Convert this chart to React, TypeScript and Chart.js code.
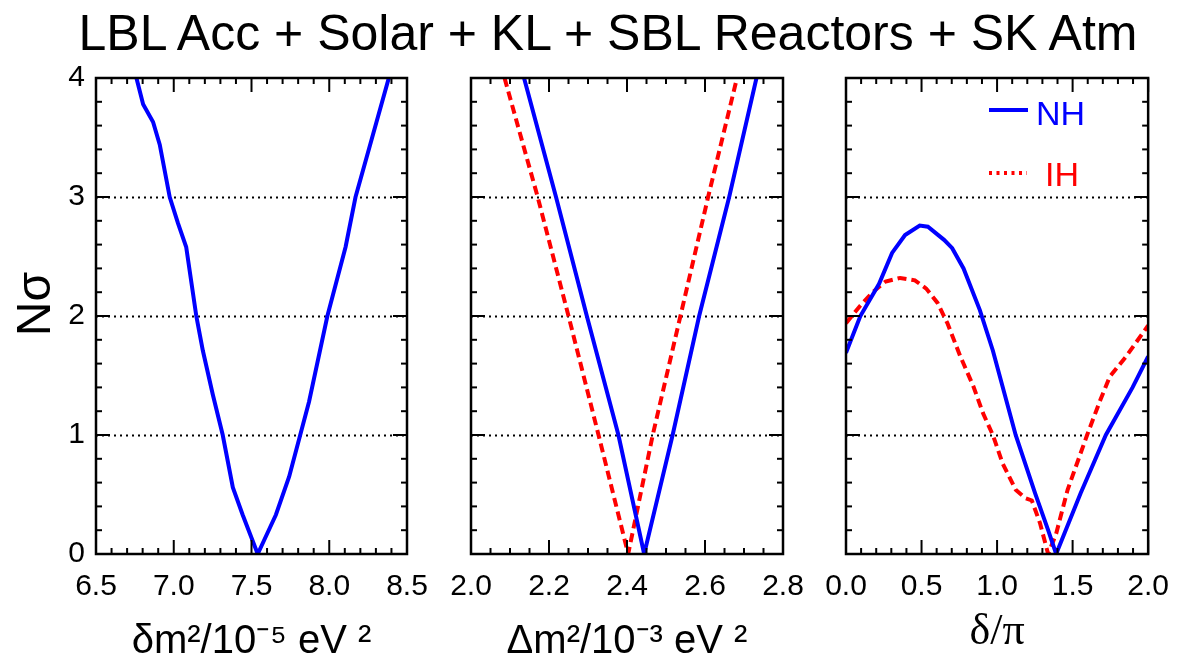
import React, { useEffect, useRef } from "react";
import { Chart, registerables } from "chart.js";

Chart.register(...registerables);

const SANS = "'Liberation Sans', Arial, Helvetica, sans-serif";
const SERIF = "'Liberation Serif', 'Times New Roman', serif";

// ---------------- data ----------------
const nSigmaTicks = [0, 1, 2, 3, 4];
const gridLevels = [1, 2, 3];

// Panel 1: solar mass splitting δm² (10^-5 eV²)
const solarTicks = [6.5, 7.0, 7.5, 8.0, 8.5];
const solarDm2 = [6.76, 6.803, 6.867, 6.91, 6.974, 7.027, 7.08, 7.145, 7.187, 7.251, 7.315, 7.38, 7.443, 7.54, 7.657, 7.742, 7.87, 7.988, 8.105, 8.169, 8.276, 8.383];
const solarNSigma = [4.0, 3.78, 3.63, 3.44, 3.0, 2.78, 2.58, 2.0, 1.71, 1.34, 1.0, 0.56, 0.33, 0.0, 0.33, 0.65, 1.28, 2.0, 2.58, 3.0, 3.5, 4.0];

// Panel 2: atmospheric mass splitting Δm² (10^-3 eV²)
const atmTicks = [2.0, 2.2, 2.4, 2.6, 2.8];
const atmDm2NH = [2.136, 2.218, 2.297, 2.378, 2.444, 2.517, 2.585, 2.662, 2.732];
const atmNSigmaNH = [4, 3, 2, 1, 0, 1, 2, 3, 4];
const atmDm2IH = [2.086, 2.171, 2.25, 2.327, 2.403, 2.466, 2.537, 2.608, 2.682];
const atmNSigmaIH = [4, 3, 2, 1, 0, 1, 2, 3, 4];

// Panel 3: CP phase δ/π
const deltaTicks = [0.0, 0.5, 1.0, 1.5, 2.0];
const deltaNH = [0, 0.095, 0.219, 0.305, 0.391, 0.488, 0.542, 0.649, 0.703, 0.778, 0.886, 0.972, 1.123, 1.252, 1.338, 1.391, 1.445, 1.553, 1.72, 1.897, 2.0];
const nSigmaNH = [1.69, 2.0, 2.27, 2.53, 2.68, 2.76, 2.75, 2.64, 2.57, 2.4, 2.05, 1.71, 1.0, 0.51, 0.2, 0.0, 0.17, 0.51, 1.0, 1.4, 1.66];
const deltaIH = [0, 0.09, 0.176, 0.262, 0.359, 0.456, 0.531, 0.606, 0.671, 0.757, 0.843, 0.908, 0.972, 1.037, 1.123, 1.187, 1.23, 1.284, 1.338, 1.391, 1.467, 1.596, 1.682, 1.746, 1.854, 2.0];
const nSigmaIH = [1.94, 2.08, 2.2, 2.29, 2.32, 2.3, 2.23, 2.11, 1.94, 1.66, 1.41, 1.18, 1.0, 0.76, 0.54, 0.47, 0.45, 0.26, 0.0, 0.17, 0.54, 1.0, 1.29, 1.49, 1.66, 1.92];

const NH_COLOR = "#0000ff";
const IH_COLOR = "#ff0000";

// ---------------- layout ----------------
const W = 1184;
const H = 662;
const PLOT_TOP = 78;
const PLOT_BOTTOM = 554;

const pts = (xs: number[], ys: number[]) => xs.map((x, i) => ({ x, y: ys[i] }));

const nhStyle = {
  borderColor: NH_COLOR,
  backgroundColor: NH_COLOR,
  borderWidth: 4,
  pointRadius: 0,
  tension: 0,
  fill: false,
};
const ihStyle = {
  borderColor: IH_COLOR,
  backgroundColor: IH_COLOR,
  borderWidth: 4,
  borderDash: [9, 5],
  pointRadius: 0,
  tension: 0,
  fill: false,
};

const framePlugin = {
  id: "nsFrame",
  beforeDatasetsDraw(chart: any) {
    const { ctx, chartArea: a, scales } = chart;
    const ys = scales.y;
    ctx.save();
    ctx.strokeStyle = "#000";
    ctx.lineWidth = 1.8;
    ctx.setLineDash([2, 4]);
    for (const v of gridLevels) {
      const py = Math.round(ys.getPixelForValue(v)) + 0.5;
      ctx.beginPath();
      ctx.moveTo(a.left, py);
      ctx.lineTo(a.right, py);
      ctx.stroke();
    }
    ctx.restore();
  },
  afterDatasetsDraw(chart: any, _args: any, opts: any) {
    const { ctx, chartArea: a, scales } = chart;
    const xs = scales.x;
    const ys = scales.y;
    ctx.save();
    ctx.strokeStyle = "#000";
    ctx.lineWidth = 2;
    ctx.setLineDash([]);
    const seg = (x1: number, y1: number, x2: number, y2: number) => {
      ctx.beginPath();
      ctx.moveTo(x1, y1);
      ctx.lineTo(x2, y2);
      ctx.stroke();
    };
    const isMajor = (v: number, list: number[]) => list.some((m) => Math.abs(m - v) < 1e-6);
    const MAJ = 14;
    const MIN = 6;
    for (let k = 0; ; k++) {
      const v = xs.min + k * opts.xMinor;
      if (v > xs.max + 1e-9) break;
      const len = isMajor(v, opts.xMajor) ? MAJ : MIN;
      const px = xs.getPixelForValue(v);
      seg(px, a.bottom, px, a.bottom - len);
      seg(px, a.top, px, a.top + len);
    }
    for (let k = 0; ; k++) {
      const v = ys.min + k * 0.2;
      if (v > ys.max + 1e-9) break;
      const len = isMajor(v, nSigmaTicks) ? MAJ : MIN;
      const py = ys.getPixelForValue(v);
      seg(a.left, py, a.left + len, py);
      seg(a.right, py, a.right - len, py);
    }
    ctx.lineWidth = 2.5;
    ctx.strokeRect(a.left, a.top, a.right - a.left, a.bottom - a.top);
    ctx.restore();
  },
};

const legendPlugin = {
  id: "hierLegend",
  afterDraw(chart: any) {
    const { ctx, chartArea: a } = chart;
    const [nh, ih] = chart.data.datasets;
    ctx.save();
    ctx.font = `34px ${SANS}`;
    ctx.textBaseline = "alphabetic";
    ctx.textAlign = "left";
    // NH row
    ctx.strokeStyle = nh.borderColor;
    ctx.lineWidth = 4;
    ctx.setLineDash([]);
    ctx.beginPath();
    ctx.moveTo(a.left + 143, a.top + 32);
    ctx.lineTo(a.left + 182, a.top + 32);
    ctx.stroke();
    ctx.fillStyle = nh.borderColor;
    ctx.fillText(nh.label, a.left + 190, a.top + 47);
    // IH row
    ctx.strokeStyle = ih.borderColor;
    ctx.setLineDash([3, 4.5]);
    ctx.beginPath();
    ctx.moveTo(a.left + 143, a.top + 95);
    ctx.lineTo(a.left + 181, a.top + 95);
    ctx.stroke();
    ctx.setLineDash([]);
    ctx.fillStyle = ih.borderColor;
    ctx.fillText(ih.label, a.left + 199, a.top + 108);
    ctx.restore();
  },
};

type PanelProps = {
  left: number;
  right: number;
  xMin: number;
  xMax: number;
  xTicks: number[];
  xMinor: number;
  xTitle: string;
  xTitleFamily: string;
  xTitleSize: number;
  xTitlePad: number;
  showY: boolean;
  datasets: any[];
  legend?: boolean;
};

function Panel(p: PanelProps) {
  const ref = useRef<HTMLCanvasElement | null>(null);
  useEffect(() => {
    if (!ref.current) return;
    const chart = new Chart(ref.current, {
      type: "line",
      data: { datasets: p.datasets },
      options: {
        responsive: false,
        animation: false,
        devicePixelRatio: 1,
        layout: { padding: { top: PLOT_TOP, bottom: 0, left: p.showY ? 0 : p.left, right: W - p.right } },
        plugins: {
          legend: { display: false },
          tooltip: { enabled: false },
          title: { display: false },
          nsFrame: { xMajor: p.xTicks, xMinor: p.xMinor },
        } as any,
        scales: {
          x: {
            type: "linear",
            min: p.xMin,
            max: p.xMax,
            afterBuildTicks: (s: any) => {
              s.ticks = p.xTicks.map((v) => ({ value: v }));
            },
            afterFit: (s: any) => {
              s.height = H - PLOT_BOTTOM;
            },
            grid: { display: false, drawTicks: false },
            border: { display: false },
            ticks: {
              color: "#000",
              font: { size: 30, family: SANS },
              padding: 15,
              maxRotation: 0,
              autoSkip: false,
              callback: (v: any) => Number(v).toFixed(1),
            },
            title: {
              display: true,
              text: p.xTitle,
              color: "#000",
              font: { size: p.xTitleSize, family: p.xTitleFamily, lineHeight: 1 },
              padding: { top: 0, bottom: p.xTitlePad },
            },
          },
          y: {
            type: "linear",
            min: 0,
            max: 4,
            display: p.showY,
            afterBuildTicks: (s: any) => {
              s.ticks = nSigmaTicks.map((v) => ({ value: v }));
            },
            afterFit: (s: any) => {
              s.width = p.showY ? p.left : 0;
            },
            grid: { display: false, drawTicks: false },
            border: { display: false },
            ticks: {
              color: "#000",
              font: { size: 30, family: SANS },
              padding: 11,
              callback: (v: any) => String(v),
            },
            title: {
              display: true,
              text: "\u2002N\u03c3",
              color: "#000",
              font: { size: 48, family: SANS, lineHeight: 1 },
              padding: { top: 13, bottom: 0 },
            },
          },
        } as any,
      },
      plugins: p.legend ? [framePlugin, legendPlugin] : [framePlugin],
    } as any);
    return () => chart.destroy();
  }, []);
  return (
    <canvas
      ref={ref}
      width={W}
      height={H}
      style={{ position: "absolute", left: 0, top: 0, width: W, height: H }}
    />
  );
}

export default function App() {
  const solarSets = [{ label: "NH", data: pts(solarDm2, solarNSigma), ...nhStyle }];
  const atmSets = [
    { label: "NH", data: pts(atmDm2NH, atmNSigmaNH), ...nhStyle },
    { label: "IH", data: pts(atmDm2IH, atmNSigmaIH), ...ihStyle },
  ];
  const deltaSets = [
    { label: "NH", data: pts(deltaNH, nSigmaNH), ...nhStyle },
    { label: "IH", data: pts(deltaIH, nSigmaIH), ...ihStyle },
  ];
  return (
    <div
      style={{
        position: "fixed",
        left: 0,
        top: 0,
        width: W,
        height: H,
        background: "#fff",
        overflow: "hidden",
      }}
    >
      <div
        style={{
          position: "absolute",
          left: 608,
          top: 8,
          transform: "translateX(-50%)",
          whiteSpace: "nowrap",
          fontFamily: SANS,
          fontSize: 50,
          lineHeight: "50px",
          color: "#000",
        }}
      >
        LBL Acc + Solar + KL + SBL Reactors + SK Atm
      </div>
      <Panel
        left={96}
        right={407}
        xMin={6.5}
        xMax={8.5}
        xTicks={solarTicks}
        xMinor={0.1}
        xTitle={"\u03b4m\u00b2/10\u207b\u2075 eV \u00b2"}
        xTitleFamily={SANS}
        xTitleSize={40}
        xTitlePad={0}
        showY={true}
        datasets={solarSets}
      />
      <Panel
        left={471}
        right={783}
        xMin={2.0}
        xMax={2.8}
        xTicks={atmTicks}
        xMinor={0.05}
        xTitle={"\u0394m\u00b2/10\u207b\u00b3 eV \u00b2"}
        xTitleFamily={SANS}
        xTitleSize={40}
        xTitlePad={0}
        showY={false}
        datasets={atmSets}
      />
      <Panel
        left={846}
        right={1158}
        xMin={0}
        xMax={2.0}
        xTicks={deltaTicks}
        xMinor={0.1}
        xTitle={"\u03b4/\u03c0"}
        xTitleFamily={SERIF}
        xTitleSize={44}
        xTitlePad={8}
        showY={false}
        datasets={deltaSets}
        legend={true}
      />
    </div>
  );
}
